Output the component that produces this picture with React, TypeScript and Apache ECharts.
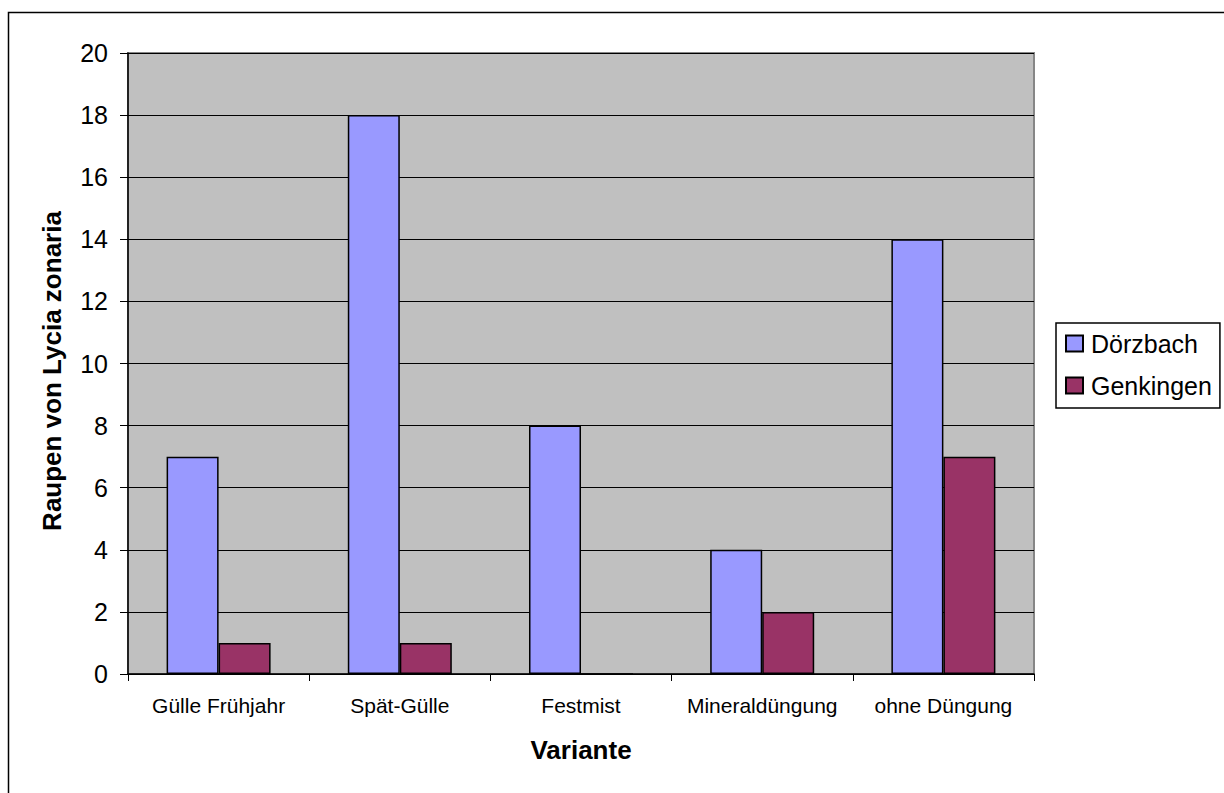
import React, { useEffect, useRef } from "react";
import * as echarts from "echarts";

// Treatment variants along the x axis
const categories = ["Gülle Frühjahr", "Spät-Gülle", "Festmist", "Mineraldüngung", "ohne Düngung"];
// Caterpillar counts per site
const doerzbach = [7, 18, 8, 4, 14];
const genkingen = [1, 1, 0, 2, 7];
const seriesNames = ["Dörzbach", "Genkingen"];
const yTitle = "Raupen von Lycia zonaria";
const xTitle = "Variante";

const FONT = "Arial, 'Liberation Sans', Helvetica, sans-serif";

export default function App() {
  const ref = useRef<HTMLDivElement>(null);

  useEffect(() => {
    if (!ref.current) return;
    const chart = echarts.init(ref.current, null, { renderer: "svg" });
    chart.setOption({
      animation: false,
      backgroundColor: "#ffffff",
      grid: {
        left: 128,
        top: 53,
        right: 190,
        bottom: 119,
        show: true,
        backgroundColor: "#C0C0C0",
        borderColor: "#868686",
        borderWidth: 2,
      },
      legend: {
        orient: "vertical",
        left: 1056,
        top: 323,
        padding: [8, 8, 10, 9],
        itemGap: 17,
        itemWidth: 17,
        itemHeight: 16,
        backgroundColor: "#ffffff",
        borderColor: "#000000",
        borderWidth: 1.5,
        borderRadius: 0,
        icon: "rect",
        data: seriesNames,
        textStyle: { fontFamily: FONT, fontSize: 25, color: "#000000", padding: [0, 0, 0, 3] },
      },
      xAxis: {
        type: "category",
        data: categories,
        name: xTitle,
        nameLocation: "middle",
        nameGap: 63,
        nameTextStyle: { fontFamily: FONT, fontSize: 26, fontWeight: "bold", color: "#000000" },
        axisLine: { show: true, lineStyle: { color: "#000000", width: 1.5 } },
        axisTick: { show: true, length: 7, interval: 0, lineStyle: { color: "#000000", width: 1 } },
        axisLabel: { fontFamily: FONT, fontSize: 21, color: "#000000", margin: 21, interval: 0 },
      },
      yAxis: {
        type: "value",
        min: 0,
        max: 20,
        interval: 2,
        axisLine: { show: true, lineStyle: { color: "#000000", width: 1.5 } },
        axisTick: { show: true, length: 8, lineStyle: { color: "#000000", width: 1 } },
        axisLabel: { fontFamily: FONT, fontSize: 25, color: "#000000", margin: 20 },
        splitLine: { show: true, lineStyle: { color: "#000000", width: 1 } },
      },
      graphic: [
        {
          type: "rect",
          silent: true,
          z: 100,
          shape: { x: 8.5, y: 12.5, width: 1400, height: 1000 },
          style: { fill: "none", stroke: "#000000", lineWidth: 1.5 },
        },
        {
          type: "text",
          silent: true,
          x: 52,
          y: 371,
          rotation: Math.PI / 2,
          style: {
            text: yTitle,
            fontFamily: FONT,
            fontSize: 26,
            fontWeight: "bold",
            fill: "#000000",
            align: "center",
            verticalAlign: "middle",
          },
        },
      ],
      series: [
        {
          name: seriesNames[0],
          type: "bar",
          data: doerzbach,
          barWidth: 52,
          barGap: "0%",
          itemStyle: { color: "#9999FF", borderColor: "#000000", borderWidth: 1.5 },
        },
        {
          name: seriesNames[1],
          type: "bar",
          data: genkingen,
          barWidth: 52,
          barGap: "0%",
          itemStyle: { color: "#993366", borderColor: "#000000", borderWidth: 1.5 },
        },
      ],
    });
    return () => chart.dispose();
  }, []);

  return (
    <div
      ref={ref}
      style={{ position: "fixed", left: 0, top: 0, width: 1224, height: 793, background: "#ffffff" }}
    />
  );
}
